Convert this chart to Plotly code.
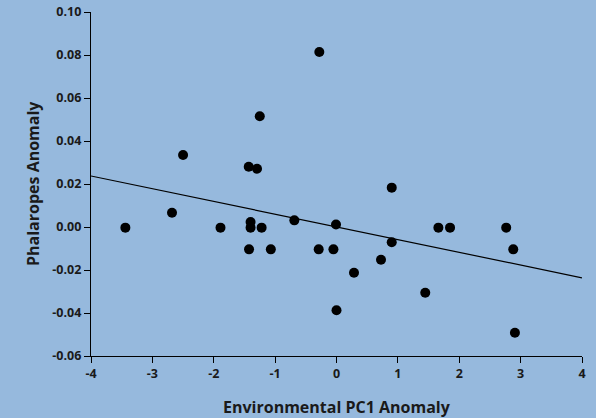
import numpy as np
import plotly.graph_objects as go

pc1 = [-3.44, -2.68, -2.50, -1.89, -1.43, -1.295, -1.40, -1.40, -1.22, -1.425,
       -1.07, -0.28, -1.25, -0.687, -0.008, -0.29, -0.05, 0.285, 0.725, 0.90,
       0.90, 1.66, 1.85, 2.765, 2.88, 0.00, 1.446, 2.907]
phal = [-0.0003, 0.0066, 0.0335, -0.0003, 0.0280, 0.0271, 0.0023, -0.0003, -0.0003, -0.0104,
        -0.0104, 0.0814, 0.0515, 0.0031, 0.0012, -0.0104, -0.0104, -0.0213, -0.0152, 0.0183,
        -0.0071, -0.0003, -0.0003, -0.0003, -0.0104, -0.0387, -0.0306, -0.0492]

x_ticks = [-4, -3, -2, -1, 0, 1, 2, 3, 4]
y_ticks = [-0.06, -0.04, -0.02, 0.00, 0.02, 0.04, 0.06, 0.08, 0.10]

slope, intercept = np.polyfit(pc1, phal, 1)
line_x = [x_ticks[0], x_ticks[-1]]
line_y = [slope * v + intercept for v in line_x]

bg = "#96b9dd"
txt = "#1a1a1a"
font_family = "Open Sans"

fig = go.Figure()
fig.add_trace(go.Scatter(x=line_x, y=line_y, mode="lines",
                         line=dict(color="black", width=1.2), showlegend=False, hoverinfo="skip"))
fig.add_trace(go.Scatter(x=pc1, y=phal, mode="markers",
                         marker=dict(color="black", size=10), showlegend=False))

axis_common = dict(showgrid=False, zeroline=False, showline=True, linecolor="black", linewidth=1.3,
                   ticks="outside", ticklen=6, tickwidth=1.3, tickcolor="black", automargin=False,
                   tickfont=dict(family=font_family, size=12.5, color=txt, weight="bold"))

fig.update_xaxes(range=[-4, 4], tickvals=x_ticks, ticktext=[str(v) for v in x_ticks],
                 **axis_common)
fig.update_yaxes(range=[-0.06, 0.10], tickvals=y_ticks, ticktext=[f"{v:.2f}" for v in y_ticks],
                 **axis_common)

title_font = dict(family=font_family, size=16, color=txt, weight="bold")
fig.add_annotation(text="Environmental PC1 Anomaly", xref="paper", yref="paper",
                   x=0.5, y=0, yshift=-51, xanchor="center", yanchor="middle",
                   showarrow=False, font=title_font)
fig.add_annotation(text="Phalaropes Anomaly", xref="paper", yref="paper",
                   x=0, y=0.5, xshift=-58, xanchor="center", yanchor="middle", textangle=-90,
                   showarrow=False, font=title_font)

fig.update_layout(width=596, height=418, paper_bgcolor=bg, plot_bgcolor=bg,
                  margin=dict(l=91, r=14, t=12, b=62))
fig.write_html("out.html", config={"displayModeBar": False},
               post_script="document.body.style.margin='0';document.body.style.background='%s';" % bg)
